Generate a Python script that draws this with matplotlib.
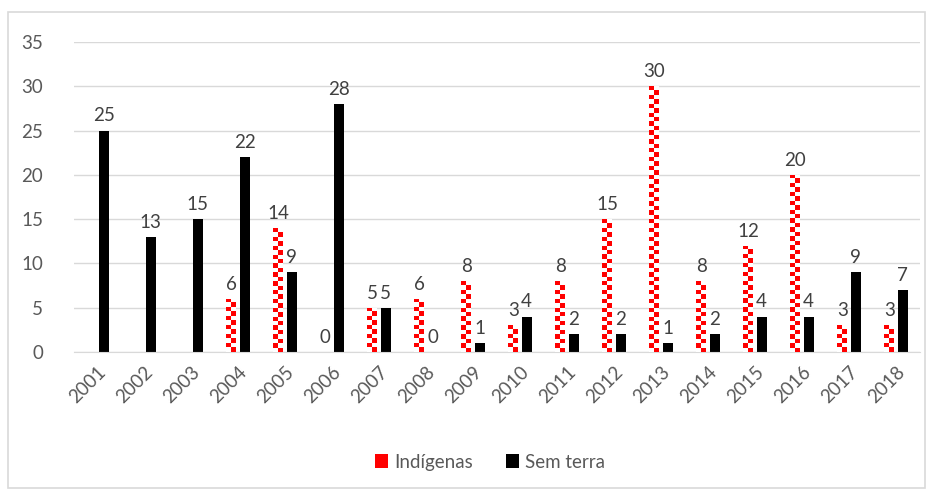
import matplotlib.pyplot as plt
import numpy as np
from matplotlib.patches import Rectangle, Patch

years = [str(y) for y in range(2001, 2019)]
indigenas = [np.nan, np.nan, np.nan, 6, 14, 0, 5, 6, 8, 3, 8, 15, 30, 8, 12, 20, 3, 3]
sem_terra = [25, 13, 15, 22, 9, 28, 5, 0, 1, 4, 2, 2, 1, 2, 4, 4, 9, 7]

plt.rcParams['font.family'] = ['Lato', 'DejaVu Sans']

fig = plt.figure(figsize=(9.36, 4.94), dpi=100)
ax = fig.add_axes([73.5 / 936, (494 - 352) / 494, (919.5 - 73.5) / 936, 310 / 494])

# borda externa do gráfico
fig.patches.append(Rectangle((8 / 936, 6 / 494), 917 / 936, 476 / 494, transform=fig.transFigure,
                             fill=False, edgecolor='#d9d9d9', linewidth=1.2))

x = np.arange(len(years))
w = 0.21
off = 0.14

bars_ind = ax.bar(x - off, np.nan_to_num(indigenas), w, color='white', edgecolor='none', zorder=2)
bars_sem = ax.bar(x + off, sem_terra, w, color='black', zorder=2)

# padrão quadriculado vermelho nas barras dos indígenas
cell = 0.5
ncols = 2
for p, v in zip(bars_ind, indigenas):
    if np.isnan(v) or v == 0:
        continue
    x0, bw, h = p.get_x(), p.get_width(), p.get_height()
    nrows = max(1, int(round(h / cell)))
    img = np.zeros((nrows, ncols, 3))
    for r in range(nrows):
        for c in range(ncols):
            img[r, c] = [1, 0, 0] if (r + c) % 2 == 0 else [1, 1, 1]
    im = ax.imshow(img, extent=(x0, x0 + bw, 0, h), aspect='auto', interpolation='nearest', zorder=3)
    im.set_clip_path(p)

fs = 13.5
for xi, v in zip(x, indigenas):
    if np.isnan(v):
        continue
    ax.text(xi - off, v + 0.7, f'{int(v)}', ha='center', va='bottom', fontsize=fs, color='#404040')
for xi, v in zip(x, sem_terra):
    ax.text(xi + off, v + 0.7, f'{int(v)}', ha='center', va='bottom', fontsize=fs, color='#404040')

ax.set_xlim(-0.5, len(years) - 0.5)
ax.set_ylim(0, 35)
ax.set_yticks(range(0, 36, 5))
ax.yaxis.grid(True, color='#d9d9d9', linewidth=1)
ax.set_axisbelow(True)
for s in ['top', 'right', 'left']:
    ax.spines[s].set_visible(False)
ax.spines['bottom'].set_color('#d9d9d9')
ax.set_xticks(x)
ax.set_xticklabels(years, rotation=45, ha='right', rotation_mode='anchor')
ax.tick_params(axis='both', length=0, labelsize=fs, colors='#595959')
ax.tick_params(axis='y', pad=22)
ax.tick_params(axis='x', pad=8)

handles = [Patch(facecolor='red', edgecolor='none'), Patch(facecolor='black')]
fig.legend(handles, ['Indígenas', 'Sem terra'], loc='center', bbox_to_anchor=(490 / 936, 1 - 462 / 494),
           ncol=2, frameon=False, fontsize=fs, handlelength=0.7, handleheight=0.7,
           handletextpad=0.3, columnspacing=1.8, labelcolor='#595959')

fig.savefig('out.png', dpi=100)
